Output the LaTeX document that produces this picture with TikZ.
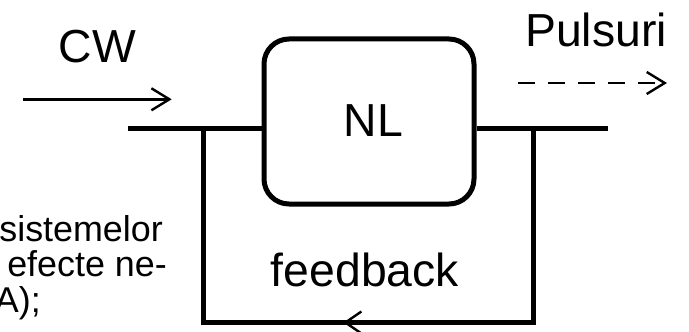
\documentclass[tikz,border=0pt]{standalone}
\usepackage{fontspec}
\setmainfont{Liberation Sans}
\usetikzlibrary{arrows.meta,decorations.markings}
\begin{document}
\begin{tikzpicture}[x=1bp,y=1bp,
  thickline/.style={line width=5bp},
  openhead/.style={-{Straight Barb[length=18bp,width=22bp,line width=2.4bp]}},
  thinarrow/.style={line width=2.4bp,openhead},
  big/.style={font=\fontsize{46.5}{50}\selectfont, inner sep=0pt},
  small/.style={font=\fontsize{36}{40}\selectfont, inner sep=0pt},
  nlbox/.style={draw, line width=5bp, rounded corners=25bp, minimum width=210bp, minimum height=165bp, inner sep=0pt}]
\useasboundingbox (0,0) rectangle (689,331);
% block
\node[nlbox] (nl) at (369,209.5) {};
\node[big, anchor=base] (nltext) at (373.5,194.3) {NL};
% junction coordinates
\coordinate (inL) at (128,202.3);
\coordinate (jL) at (203.5,202.3);
\coordinate (jR) at (533.5,202.3);
\coordinate (outR) at (608,202.3);
\coordinate (bL) at (203.5,8.5);
\coordinate (bR) at (533.5,8.5);
% main line
\draw[thickline] (inL) -- (inL -| nl.west);
\draw[thickline] (nl.east |- outR) -- (outR);
% feedback loop
\draw[thickline, line join=miter, postaction={decorate},
  decoration={markings, mark=at position 384bp with {\arrow{Straight Barb[length=16bp,width=22bp,line width=2.4bp]}}}]
  (jR) -- (bR) -- (bL) -- (jL);
% input arrow
\coordinate (cwa) at (23.3,231.7);
\coordinate (cwb) at (171.7,231.7);
\draw[thinarrow] (cwa) -- (cwb);
% output dashed arrow
\coordinate (pa) at (518,248);
\coordinate (pb) at (667,248);
\draw[thinarrow, dash pattern=on 17bp off 13bp] (pa) -- (pb);
% labels
\node[big, anchor=base] (cw) at (97.5,269) {CW};
\node[big, anchor=base] (pulsuri) at (596,284.3) {Pulsuri};
\node[big, anchor=base] (fb) at (365,44.3) {feedback};
% clipped side text
\node[small, anchor=base east] (t1) at (163,90) {sistemelor};
\node[small, anchor=base east] (t2) at (167,55) {efecte ne-};
\node[small, anchor=base east] (t3) at (41,19) {A);};
\end{tikzpicture}
\end{document}
